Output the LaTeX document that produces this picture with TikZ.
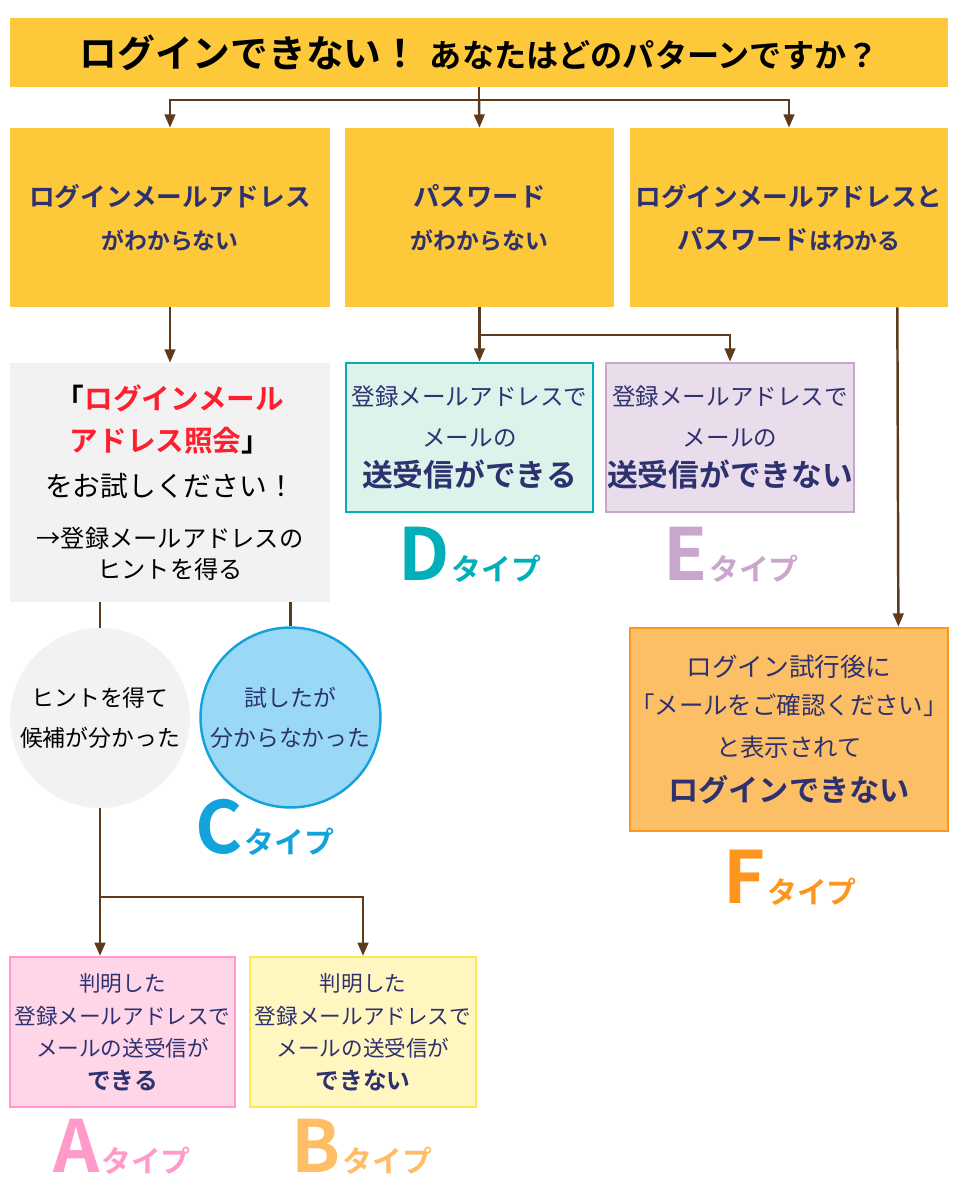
\documentclass[tikz,border=0pt]{standalone}
\usepackage{fontspec}
\setmainfont{Noto Sans CJK JP}[BoldFont={Noto Sans CJK JP Bold}]
\usetikzlibrary{arrows.meta}

\definecolor{qyellow}{HTML}{FDC93B}
\definecolor{textnavy}{HTML}{2E3170}
\definecolor{arrowbrown}{HTML}{5E3A1A}
\definecolor{hintgray}{HTML}{F2F2F2}
\definecolor{alertred}{HTML}{FF1E2D}
\definecolor{bubbleblue}{HTML}{9AD9F5}
\definecolor{cblue}{HTML}{12A3DD}
\definecolor{dteal}{HTML}{00AFB8}
\definecolor{dmint}{HTML}{DBF3EA}
\definecolor{eline}{HTML}{C9A6CC}
\definecolor{elilac}{HTML}{E9DDEB}
\definecolor{fline}{HTML}{FD951F}
\definecolor{fpeach}{HTML}{FDBF66}
\definecolor{aline}{HTML}{FF9ACB}
\definecolor{apink}{HTML}{FFD6E8}
\definecolor{bline}{HTML}{FDE84F}
\definecolor{bcream}{HTML}{FFF6C0}
\definecolor{btext}{HTML}{FDBE66}

\newcommand{\typetag}[1]{{\fontsize{41}{41}\selectfont #1}\hspace{1pt}{\fontsize{17}{20}\selectfont タイプ}}
\newcommand{\redbig}[1]{{\fontsize{16.3}{20}\selectfont\bfseries #1}}

\begin{document}
\begin{tikzpicture}[x=0.02cm, y=-0.02cm,
    arr/.style={draw=arrowbrown, line width=1.4pt, -{Triangle[length=7.5pt, width=6pt]}},
    link/.style={draw=arrowbrown, line width=1.4pt},
    question/.style={fill=qyellow, text=textnavy, align=center, minimum height=3.58cm, inner sep=0pt},
    result/.style={draw, line width=1.6pt, align=center, text=textnavy, inner sep=0pt},
    bubble/.style={circle, minimum size=3.6cm, align=center, inner sep=0pt},
    typelabel/.style={anchor=base, inner sep=0pt, font=\bfseries}]

  \useasboundingbox (0,0) rectangle (960,1200);

  % heading
  \node[fill=qyellow, minimum width=18.76cm, minimum height=1.38cm, font=\bfseries] (title) at (479,52.5)
    {{\fontsize{21.5}{24}\selectfont ログインできない！}\hspace{6pt}{\fontsize{18.3}{24}\selectfont あなたはどのパターンですか？}};

  % three questions
  \node[question, minimum width=6.4cm, font=\bfseries\fontsize{13}{24.5}\selectfont] (addr) at (170,217.5)
    {{\fontsize{14.6}{24.5}\selectfont ログインメールアドレス}\\がわからない};
  \node[question, minimum width=5.38cm, font=\bfseries\fontsize{13}{24.5}\selectfont] (pass) at (479.5,217.5)
    {{\fontsize{15}{24.5}\selectfont パスワード}\\がわからない};
  \node[question, minimum width=6.36cm, font=\bfseries\fontsize{13}{24.5}\selectfont] (both) at (789,217.5)
    {{\fontsize{14.6}{24.5}\selectfont ログインメールアドレスと}\\{\fontsize{15}{24.5}\selectfont パスワード}はわかる};

  % lookup hint
  \node[fill=hintgray, minimum width=6.4cm, minimum height=4.78cm, align=center, inner sep=0pt,
        font=\fontsize{13.8}{17.6}\selectfont] (lookup) at (170,482.5)
    {\redbig{「\textcolor{alertred}{ログインメール}}\\[6.4pt]
     \redbig{\textcolor{alertred}{アドレス照会}」}\\[8pt]
     {\fontsize{15.8}{20}\selectfont をお試しください！}\\[11pt]
     →登録メールアドレスの\\
     ヒントを得る};

  \node[bubble, fill=hintgray, font=\fontsize{13}{22.8}\selectfont] (found) at (100,718)
    {ヒントを得て\\候補が分かった};
  \node[bubble, fill=bubbleblue, draw=cblue, line width=1.4pt, text=textnavy,
        font=\fontsize{13}{22.8}\selectfont] (notfound) at (290.5,717.5)
    {試したが\\分からなかった};

  % results
  \node[result, draw=dteal, fill=dmint, minimum width=4.94cm, minimum height=2.98cm,
        font=\fontsize{13.4}{23.3}\selectfont] (canmail) at (469.5,437.5)
    {登録メールアドレスで\\メールの\\{\fontsize{17.5}{23.3}\selectfont\bfseries 送受信ができる}};
  \node[result, draw=eline, fill=elilac, minimum width=4.96cm, minimum height=2.98cm,
        font=\fontsize{13.4}{23.3}\selectfont] (nomail) at (730,437.5)
    {登録メールアドレスで\\メールの\\{\fontsize{17.5}{23.3}\selectfont\bfseries 送受信ができない}};
  \node[result, draw=fline, fill=fpeach, minimum width=6.36cm, minimum height=4.06cm,
        font=\fontsize{13.9}{21.6}\selectfont] (loginfail) at (789,729.5)
    {{\fontsize{14.6}{21.6}\selectfont ログイン試行後に}\\「メールをご確認ください」\\[2pt]と表示されて\\[4pt]{\fontsize{17.2}{21.6}\selectfont\bfseries ログインできない}};
  \node[result, draw=aline, fill=apink, minimum width=4.5cm, minimum height=3cm, line width=1.3pt,
        font=\fontsize{12.3}{18.5}\selectfont] (knownok) at (122.5,1032)
    {判明した\\登録メールアドレスで\\メールの送受信が\\{\bfseries\fontsize{13.5}{18.5}\selectfont できる}};
  \node[result, draw=bline, fill=bcream, minimum width=4.52cm, minimum height=3cm, line width=1.3pt,
        font=\fontsize{12.3}{18.5}\selectfont] (knownng) at (363,1032)
    {判明した\\登録メールアドレスで\\メールの送受信が\\{\bfseries\fontsize{13.5}{18.5}\selectfont できない}};

  % type tags
  \node[typelabel, text=aline] (tagA) at (122,1172) {\typetag{A}};
  \node[typelabel, text=btext] (tagB) at (362,1172) {\typetag{B}};
  \node[typelabel, text=cblue] (tagC) at (265,853) {\typetag{C}};
  \node[typelabel, text=dteal] (tagD) at (470,580) {\typetag{D}};
  \node[typelabel, text=eline] (tagE) at (731,580) {\typetag{E}};
  \node[typelabel, text=fline] (tagF) at (790,903) {\typetag{F}};

  % connectors
  \coordinate (split) at (479,100);
  \draw[link] (title.south) -- (split);
  \draw[arr] (split) -| (addr.north);
  \draw[arr] (split) -- (pass.north);
  \draw[arr] (split) -| (both.north);

  \draw[arr] (addr) -- (lookup);
  \draw[link] (lookup.south -| found.north) -- (found.north);
  \draw[link] (lookup.south -| notfound.north) -- (notfound.north);

  \coordinate (splitAB) at (100,897);
  \draw[link] (found.south) -- (splitAB);
  \draw[arr] (splitAB) -- (splitAB |- knownok.north);
  \draw[arr] (splitAB) -| (knownng.north);

  \coordinate (splitDE) at (479.5,335);
  \draw[link] (pass.south) -- (splitDE);
  \draw[arr] (splitDE) -- (splitDE |- canmail.north);
  \draw[arr] (splitDE) -| (nomail.north);

  \draw[arr] ([xshift=-1.02cm]both.south east) -- ([xshift=-1.02cm]loginfail.north east);
\end{tikzpicture}
\end{document}
